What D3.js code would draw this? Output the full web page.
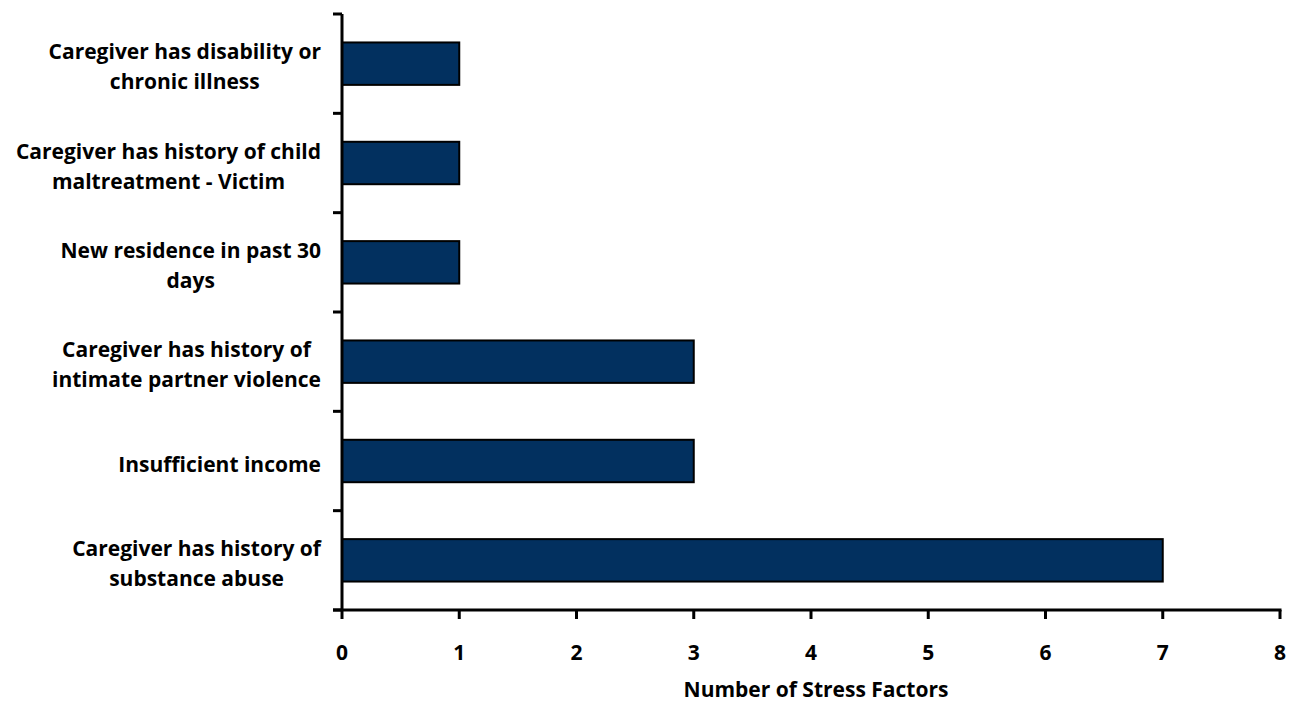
<!DOCTYPE html>
<html><head><meta charset="utf-8">
<script src="https://cdn.jsdelivr.net/npm/d3@7"></script>
<style>body{margin:0;background:#fff}svg{display:block}text{font-family:"Open Sans",Lato,sans-serif;font-weight:bold;fill:#000}</style>
</head><body>
<svg id="c" width="1294" height="711"></svg>
<script>
const categories = [
  ["Caregiver has disability or","chronic illness"],
  ["Caregiver has history of child","maltreatment - Victim"],
  ["New residence in past 30","days"],
  ["Caregiver has history of","intimate partner violence"],
  ["Insufficient income"],
  ["Caregiver has history of","substance abuse"]
];
const values = [1,1,1,3,3,7];
const xTicks = [0,1,2,3,4,5,6,7,8];
const xTitle = "Number of Stress Factors";

(function(){
const svg = d3.select("#c");
const pl = 342, pr = 1280, pt = 14, pb = 610;
const fs = 21;
const x = d3.scaleLinear().domain([0,8]).range([pl,pr]);
const y = d3.scaleBand().domain(d3.range(categories.length)).range([pt,pb]).paddingInner(0.573).paddingOuter(0.2865);

svg.append("g").selectAll("rect").data(values).join("rect")
  .attr("x", x(0)).attr("y",(d,i)=>y(i)).attr("width",d=>x(d)-x(0)).attr("height",y.bandwidth())
  .attr("fill","#02305f").attr("stroke","#000").attr("stroke-width",2);

const yAxis = svg.append("g");
yAxis.append("line").attr("x1",pl).attr("x2",pl).attr("y1",pt).attr("y2",pb+1).attr("stroke","#000").attr("stroke-width",3);
const yStep = (pb-pt)/categories.length;
yAxis.selectAll("line.t").data(d3.range(categories.length+1)).join("line").attr("class","t")
  .attr("x1",pl-9).attr("x2",pl).attr("y1",i=>pt+i*yStep).attr("y2",i=>pt+i*yStep).attr("stroke","#000").attr("stroke-width",3);

const xAxis = svg.append("g");
xAxis.append("line").attr("x1",pl-9).attr("x2",pr+1.5).attr("y1",pb).attr("y2",pb).attr("stroke","#000").attr("stroke-width",3);
xAxis.selectAll("line.t").data(xTicks).join("line").attr("class","t")
  .attr("x1",d=>x(d)).attr("x2",d=>x(d)).attr("y1",pb).attr("y2",pb+9).attr("stroke","#000").attr("stroke-width",3);
xAxis.selectAll("text").data(xTicks).join("text")
  .attr("x",d=>x(d)).attr("y",660).attr("text-anchor","middle").attr("font-size",fs).text(d=>d);

svg.append("text").attr("x",(pl+pr)/2+5).attr("y",697).attr("text-anchor","middle").attr("font-size",fs).text(xTitle);

const lineH = 30, labelRight = 321;
categories.forEach((lines,i)=>{
  const g = svg.append("g");
  const cy = y(i)+y.bandwidth()/2;
  const texts = lines.map((s,j)=>g.append("text").attr("font-size",fs).attr("text-anchor","middle")
     .attr("y", cy + (j-(lines.length-1)/2)*lineH + 10.5).text(s));
  const w = d3.max(texts, t=>t.node().getComputedTextLength());
  texts.forEach(t=>t.attr("x", labelRight - w/2));
});
})();
</script>
</body></html>
